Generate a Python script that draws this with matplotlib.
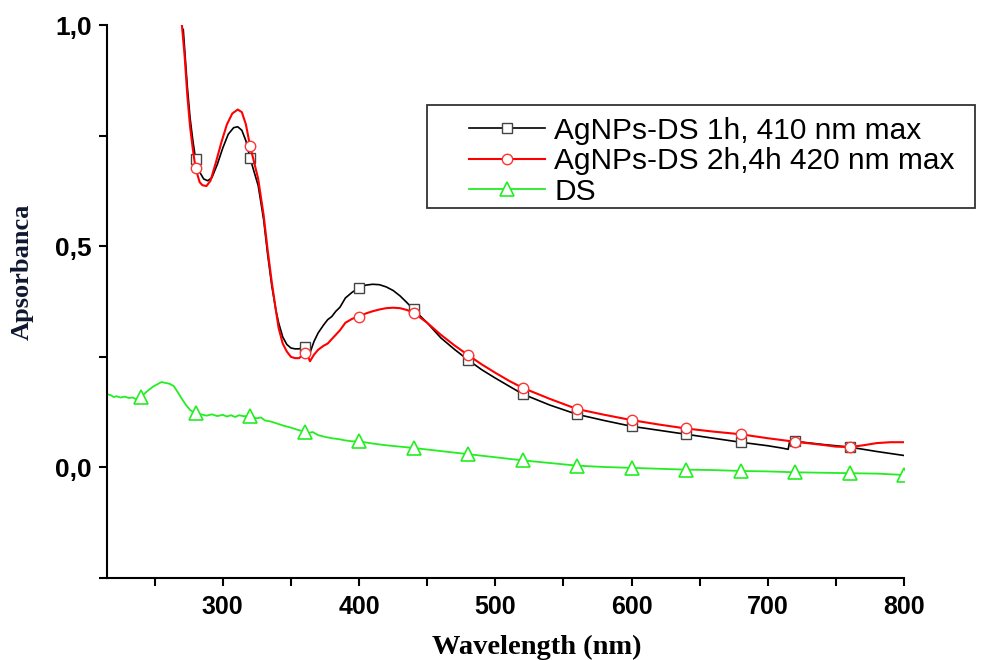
import matplotlib
matplotlib.use('Agg')
import matplotlib.pyplot as plt
import numpy as np
from matplotlib.patches import Rectangle

# Datos (longitud de onda en nm, absorbancia)
wl_1h = [271, 274, 276, 278, 280, 283, 286, 289, 292, 296, 300, 304, 308, 311, 314, 317, 320, 323,
         326, 330, 333, 336, 339, 341, 344, 347, 350, 353, 356, 360, 362, 364, 367, 370, 374, 377,
         380, 383, 386, 390, 395, 400, 405, 410, 415, 420, 425, 430, 435, 440, 450, 460, 470, 480,
         490, 500, 510, 520, 540, 560, 580, 600, 620, 640, 660, 680, 700, 710, 715, 716, 720, 740,
         760, 780, 800]
abs_1h = [0.99, 0.86, 0.79, 0.74, 0.698, 0.668, 0.652, 0.648, 0.655, 0.685, 0.722, 0.753, 0.768, 0.770,
          0.762, 0.738, 0.700, 0.668, 0.637, 0.560, 0.480, 0.410, 0.355, 0.327, 0.295, 0.278, 0.270,
          0.268, 0.268, 0.273, 0.268, 0.259, 0.285, 0.304, 0.322, 0.334, 0.341, 0.353, 0.362, 0.383,
          0.396, 0.406, 0.412, 0.414, 0.413, 0.408, 0.400, 0.388, 0.373, 0.357, 0.327, 0.293, 0.267,
          0.243, 0.221, 0.202, 0.184, 0.166, 0.141, 0.120, 0.106, 0.093, 0.084, 0.075, 0.066, 0.057,
          0.049, 0.044, 0.041, 0.058, 0.059, 0.052, 0.046, 0.036, 0.027]

wl_2h = [270, 272, 274, 276, 278, 280, 283, 285, 288, 291, 295, 299, 303, 307, 311, 314, 317, 320, 323,
         326, 330, 333, 336, 339, 341, 344, 347, 350, 353, 356, 360, 362, 364, 367, 370, 374, 377, 380,
         383, 386, 390, 395, 400, 405, 410, 415, 420, 425, 430, 435, 440, 450, 460, 470, 480, 490, 500,
         510, 520, 540, 560, 580, 600, 620, 640, 660, 680, 700, 720, 740, 750, 760, 770, 780, 790, 800]
abs_2h = [1.0, 0.93, 0.84, 0.77, 0.72, 0.677, 0.645, 0.638, 0.636, 0.648, 0.690, 0.735, 0.775, 0.800,
          0.809, 0.803, 0.775, 0.727, 0.690, 0.652, 0.570, 0.490, 0.418, 0.355, 0.315, 0.280, 0.262,
          0.250, 0.247, 0.247, 0.258, 0.255, 0.240, 0.255, 0.266, 0.275, 0.280, 0.290, 0.300, 0.310,
          0.327, 0.336, 0.341, 0.348, 0.353, 0.357, 0.360, 0.361, 0.360, 0.356, 0.350, 0.327, 0.300,
          0.276, 0.254, 0.233, 0.214, 0.196, 0.180, 0.155, 0.132, 0.119, 0.107, 0.097, 0.088, 0.081,
          0.075, 0.066, 0.058, 0.051, 0.047, 0.046, 0.050, 0.055, 0.057, 0.057]

wl_ds = [216, 218, 220, 222, 225, 228, 231, 234, 237, 240, 243, 246, 249, 252, 255, 258, 261, 264,
         267, 270, 273, 276, 280, 284, 288, 292, 296, 300, 303, 306, 309, 312, 315, 320, 325, 328,
         331, 335, 340, 345, 350, 355, 360, 363, 366, 370, 375, 380, 385, 390, 395, 400, 410, 420,
         430, 440, 460, 480, 500, 520, 540, 560, 580, 600, 620, 640, 660, 680, 700, 720, 740, 760,
         780, 800]
abs_ds = [0.165, 0.163, 0.159, 0.161, 0.158, 0.160, 0.157, 0.158, 0.153, 0.160, 0.168, 0.176, 0.183,
          0.188, 0.193, 0.191, 0.189, 0.184, 0.170, 0.155, 0.141, 0.130, 0.122, 0.120, 0.117, 0.120,
          0.116, 0.119, 0.115, 0.118, 0.114, 0.118, 0.116, 0.116, 0.111, 0.113, 0.106, 0.104, 0.099,
          0.094, 0.090, 0.085, 0.081, 0.078, 0.080, 0.073, 0.069, 0.066, 0.064, 0.061, 0.059, 0.059,
          0.054, 0.050, 0.047, 0.044, 0.037, 0.030, 0.023, 0.016, 0.010, 0.004, 0.001, -0.001, -0.003,
          -0.005, -0.006, -0.008, -0.009, -0.011, -0.012, -0.013, -0.014, -0.017]

marcas_1h = [280, 320, 360, 400, 440, 480, 520, 560, 600, 640, 680, 720, 760]
marcas_2h = [280, 320, 360, 400, 440, 480, 520, 560, 600, 640, 680, 720, 760]
marcas_ds = [240, 280, 320, 360, 400, 440, 480, 520, 560, 600, 640, 680, 720, 760, 800]

etiquetas = ['AgNPs-DS 1h, 410 nm max', 'AgNPs-DS 2h,4h 420 nm max', 'DS']


def indices(wl, marcas):
    return list(np.where(np.isin(wl, marcas))[0])


fig = plt.figure(figsize=(9.84, 6.6), dpi=100)
ax = fig.add_axes([0.1087, 0.1242, 0.810, 0.8379])

ax.plot(wl_1h, abs_1h, color='black', lw=1.2, marker='s', markevery=indices(wl_1h, marcas_1h),
        markersize=6.5, markerfacecolor='white', markeredgecolor='#444444', markeredgewidth=1.0,
        label=etiquetas[0])
ax.plot(wl_2h, abs_2h, color='#ff0000', lw=1.5, marker='o', markevery=indices(wl_2h, marcas_2h),
        markersize=7.5, markerfacecolor='white', markeredgecolor='#ff3333', markeredgewidth=1.0,
        label=etiquetas[1])
ax.plot(wl_ds, abs_ds, color='#22ee22', lw=1.3, marker='^', markevery=indices(wl_ds, marcas_ds),
        markersize=10, markerfacecolor='white', markeredgecolor='#22ee22', markeredgewidth=1.2,
        label=etiquetas[2])

ax.set_xlim(215, 800)
ax.set_ylim(-0.25, 1.0)
ax.set_xticks([300, 400, 500, 600, 700, 800])
ax.set_xticks([250, 350, 450, 550, 650, 750], minor=True)
ax.set_yticks([0.0, 0.5, 1.0])
ax.set_yticklabels(['0,0', '0,5', '1,0'])
ax.set_yticks([-0.25, 0.25, 0.75], minor=True)

for s in ['top', 'right']:
    ax.spines[s].set_visible(False)
for s in ['left', 'bottom']:
    ax.spines[s].set_linewidth(1.5)

ax.tick_params(axis='both', which='both', direction='out', width=1.5, length=6)
ax.tick_params(axis='y', pad=5)
ax.tick_params(axis='x', pad=6)
for t in ax.get_yticklabels():
    t.set_fontfamily('Liberation Sans')
    t.set_fontweight('bold')
    t.set_fontsize(19)
for t in ax.get_xticklabels():
    t.set_fontfamily('Liberation Sans')
    t.set_fontweight('bold')
    t.set_fontsize(18)

ax.set_xlabel('Wavelength (nm)', fontfamily='Liberation Serif', fontweight='bold', fontsize=20.5)
ax.xaxis.set_label_coords(0.5395, -0.103)
ax.set_ylabel('Apsorbanca', fontfamily='Liberation Serif', fontweight='bold', fontsize=19,
              color='#101830')
ax.yaxis.set_label_coords(-0.0916, 0.553)

# Leyenda sin marco y recuadro aparte
leg = fig.legend(loc='upper left', bbox_to_anchor=(448 / 984, 1 - 96 / 660), frameon=False,
                 prop={'family': 'Liberation Sans', 'size': 21.5}, handlelength=2.55,
                 handletextpad=0.3, labelspacing=0.08, borderpad=0.2)
fig.add_artist(Rectangle((427 / 984, 1 - 208 / 660), 548 / 984, 103 / 660,
                         transform=fig.transFigure, fill=False, edgecolor='#333333', lw=1.3))

fig.savefig('out.png', dpi=100)
